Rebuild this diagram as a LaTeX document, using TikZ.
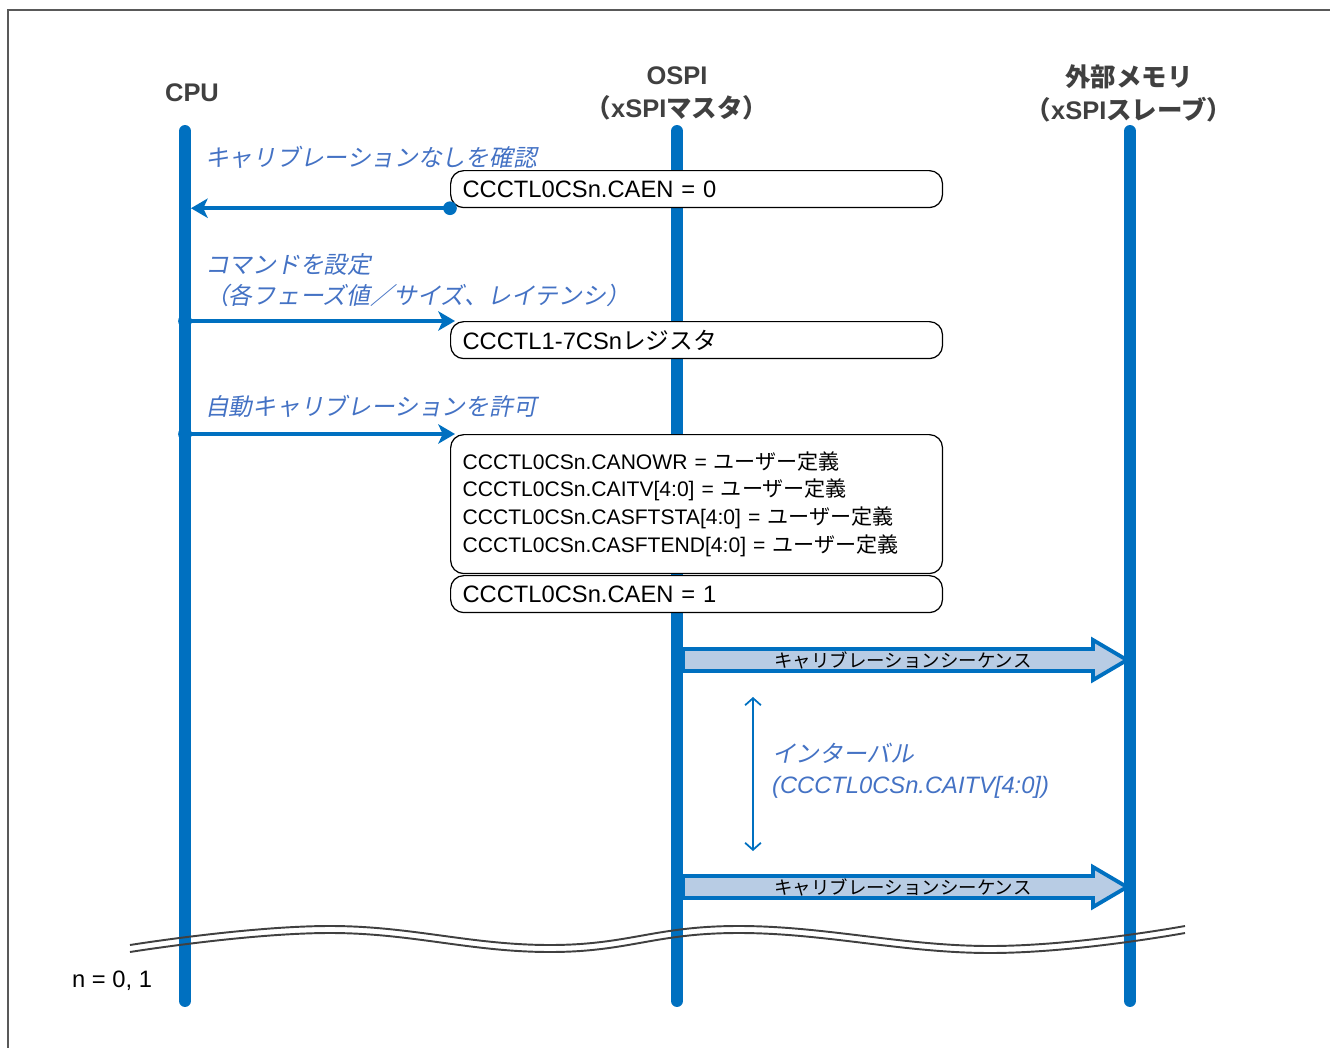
\documentclass[tikz,border=0pt]{standalone}
\usepackage{fontspec}
\setmainfont{Liberation Sans}
\newfontfamily\jpfont{Noto Sans CJK JP}
\newfontfamily\jpslant[FakeSlant=0.2]{Noto Sans CJK JP}
\usetikzlibrary{positioning,arrows.meta}
\definecolor{lifeblue}{RGB}{0,112,192}
\definecolor{notecolor}{RGB}{68,114,196}
\definecolor{seqfill}{RGB}{184,204,228}
\definecolor{headgray}{RGB}{64,64,64}
\definecolor{framegray}{RGB}{89,89,89}

\begin{document}
\begin{tikzpicture}[x=0.02cm, y=-0.02cm,
    >={Stealth[length=9.5pt,width=11pt,inset=2.5pt]},
    actor/.style={font=\bfseries\fontsize{14.5}{18.7}\selectfont, text=headgray, align=center},
    lifeline/.style={lifeblue, line width=6.8pt, line cap=round},
    regbox/.style={draw=black, line width=0.7pt, rounded corners=7.5pt, fill=white,
        anchor=north west, minimum height=0.74cm, text width=9.36cm, inner xsep=0.24cm,
        align=left, font=\fontsize{13.5}{16}\selectfont},
    msg/.style={->, lifeblue, line width=2.3pt},
    note/.style={anchor=west, text=notecolor, align=left, font=\jpslant\fontsize{13.5}{17.6}\selectfont},
    seqarrow/.style={draw=lifeblue, fill=seqfill, line width=2.2pt, line join=miter},
    seqtext/.style={font=\jpfont\fontsize{10.5}{12}\selectfont},
    ival/.style={{Straight Barb[length=4pt,width=9pt]}-{Straight Barb[length=4pt,width=9pt]}, lifeblue, line width=1pt},
    breakline/.style={headgray, line width=1.1pt}]
  \useasboundingbox (0,0) rectangle (1330,1048);
  \draw[framegray, line width=1.2pt] (8,1048) -- (8,10) -- (1330,10);

  % participants
  \node[actor] (cpu) at (192,93) {CPU};
  \node[actor] (ospi) at (677,93) {OSPI\\{\jpfont （}xSPI{\jpfont マスタ）}};
  \node[actor] (mem) at (1129,93) {{\jpfont 外部メモリ}\\{\jpfont （}xSPI{\jpfont スレーブ）}};
  \foreach \n/\x in {cpu/185, ospi/677, mem/1130}{
    \coordinate (\n-top) at (\x,131);
    \coordinate (\n-bot) at (\x,1001);
    \draw[lifeline] (\n-top) -- (\n-bot);
  }

  % registers
  \node[regbox] (caen0) at (450,170) {CCCTL0CSn.CAEN = 0};
  \node[regbox] (cmdreg) at (450,321) {CCCTL1-7CSn{\jpfont レジスタ}};
  \node[regbox, minimum height=2.78cm, font=\fontsize{12}{15.7}\selectfont] (userdef) at (450,434)
    {CCCTL0CSn.CANOWR = {\jpfont ユーザー定義}\\
     CCCTL0CSn.CAITV[4:0] = {\jpfont ユーザー定義}\\
     CCCTL0CSn.CASFTSTA[4:0] = {\jpfont ユーザー定義}\\
     CCCTL0CSn.CASFTEND[4:0] = {\jpfont ユーザー定義}};
  \node[regbox] (caen1) at (450,575) {CCCTL0CSn.CAEN = 1};

  % CPU <-> OSPI
  \draw[msg, shorten >=3.4pt] (caen0.south west) -- (cpu-top |- caen0.south west);
  \fill[lifeblue] (caen0.south west) circle[radius=3.9pt];
  \foreach \b in {cmdreg, userdef}{
    \fill[lifeblue] (cpu-top |- \b.north west) circle[radius=3.9pt];
    \draw[msg] (cpu-top |- \b.north west) -- ([xshift=0.1cm]\b.north west);
  }
  \node[note] (chk) at (199,157) {キャリブレーションなしを確認};
  \node[note] (cmd) at (199,280.5) {コマンドを設定\\（各フェーズ値／サイズ、レイテンシ）};
  \node[note] (auto) at (199,406) {自動キャリブレーションを許可};

  % OSPI -> memory
  \foreach \y in {660,887}{
    \draw[seqarrow] (683,\y-11) -- (1093,\y-11) -- (1093,\y-20) -- (1127,\y)
      -- (1093,\y+20) -- (1093,\y+11) -- (683,\y+11) -- cycle;
    \node[seqtext] at (903,\y) {キャリブレーションシーケンス};
  }
  \coordinate (ivtop) at (753,697);
  \coordinate (ivbot) at (753,851);
  \draw[ival] (ivtop) -- (ivbot);
  \node[note] (ivlabel) at (766,770.5) {インターバル\\{\rmfamily\itshape (CCCTL0CSn.CAITV[4:0])}};

  % break
  \foreach \d in {0,7}
    \draw[breakline] plot[smooth, tension=0.7] coordinates
      {(130,945+\d) (330,926+\d) (550,945+\d) (740,926+\d) (990,946+\d) (1185,926+\d)};
  \node[anchor=west, font=\fontsize{13.5}{16}\selectfont] (nvals) at (66,981) {n = 0, 1};
\end{tikzpicture}
\end{document}
